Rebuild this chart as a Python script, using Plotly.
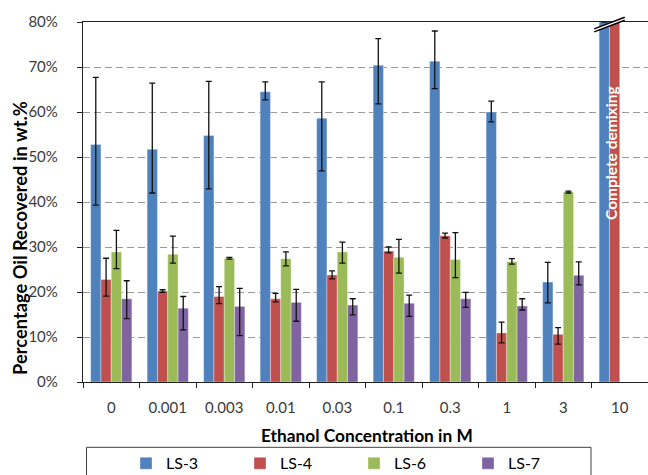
import plotly.graph_objects as go

categories = ["0", "0.001", "0.003", "0.01", "0.03", "0.1", "0.3", "1", "3", "10"]
series_names = ["LS-3", "LS-4", "LS-6", "LS-7"]
colors = ["#4F81BD", "#C0504D", "#9BBB59", "#8064A2"]

ls3 = [52.8, 51.7, 54.8, 64.5, 58.6, 70.4, 71.3, 60.0, 22.2, 80]
ls3_plus = [14.9, 14.7, 12.0, 2.2, 8.1, 5.9, 6.7, 2.4, 4.4, None]
ls3_minus = [13.5, 9.7, 11.9, 1.8, 11.7, 8.6, 6.1, 2.2, 4.6, None]

ls4 = [22.8, 20.2, 19.0, 18.5, 23.8, 29.1, 32.5, 10.9, 10.6, 80]
ls4_plus = [4.7, 0.3, 2.2, 1.2, 0.9, 0.9, 0.6, 2.4, 1.5, None]
ls4_minus = [3.7, 0.3, 1.6, 0.7, 0.9, 0.4, 0.5, 2.2, 2.2, None]

ls6 = [28.9, 28.4, 27.5, 27.4, 28.9, 27.7, 27.2, 26.7, 42.2, None]
ls6_plus = [4.8, 4.0, 0.2, 1.5, 2.2, 4.0, 6.0, 0.7, 0.2, None]
ls6_minus = [3.7, 2.0, 0.2, 1.6, 2.5, 3.5, 4.0, 0.5, 0.2, None]

ls7 = [18.5, 16.4, 16.8, 17.7, 17.1, 17.5, 18.5, 16.9, 23.7, None]
ls7_plus = [4.0, 2.6, 4.0, 2.9, 1.4, 1.8, 1.4, 1.6, 3.0, None]
ls7_minus = [4.4, 4.8, 6.5, 4.2, 2.2, 2.9, 1.9, 0.9, 2.1, None]

y_ticks = [0, 10, 20, 30, 40, 50, 60, 70, 80]
y_tick_labels = [f"{v}%" for v in y_ticks]

data = [(ls3, ls3_plus, ls3_minus), (ls4, ls4_plus, ls4_minus),
        (ls6, ls6_plus, ls6_minus), (ls7, ls7_plus, ls7_minus)]

FONT = "Lato, 'Open Sans', sans-serif"
TXT = "#3a3a3a"

fig = go.Figure()
for name, col, (vals, plus, minus) in zip(series_names, colors, data):
    fig.add_trace(go.Bar(
        name=name, x=categories, y=vals,
        marker=dict(color=col, line=dict(color="rgba(255,255,255,0.35)", width=1)),
        error_y=dict(type="data", symmetric=False, array=plus, arrayminus=minus,
                     color="#111111", thickness=1.3, width=3),
    ))

n = len(categories)
bargap = 0.27
idx10 = categories.index("10")
group_w = 1 - bargap
cx = (idx10 + 0.5 - group_w / 4) / n
half = 0.27 / n
ya0, ya1 = 0.981, 1.013
off = 3 / 361

shapes = [
    dict(type="path", xref="paper", yref="paper",
         path=f"M{cx-half},{ya0} L{cx+half},{ya1} L{cx+half},{ya1-off} L{cx-half},{ya0-off} Z",
         fillcolor="white", line=dict(width=0)),
    dict(type="line", xref="paper", yref="paper", x0=cx - half, y0=ya0, x1=cx + half, y1=ya1,
         line=dict(color="black", width=1.5)),
    dict(type="line", xref="paper", yref="paper", x0=cx - half, y0=ya0 - off, x1=cx + half, y1=ya1 - off,
         line=dict(color="black", width=1.5)),
    # legend frame
    dict(type="rect", xref="paper", yref="paper", x0=(86.5 - 83) / 565, x1=(591 - 83) / 565,
         y0=-0.35, y1=(382.5 - 448) / 361, line=dict(color="#404040", width=1),
         fillcolor="rgba(0,0,0,0)"),
]

annotations = [
    dict(text="<b>Complete demixing</b>", x=idx10, y=51, xref="x", yref="y", xshift=-9.3,
         textangle=-90, showarrow=False, font=dict(family=FONT, size=15.5, color="white")),
    dict(text="<b>Percentage Oil Recovered in wt.%</b>", xref="paper", yref="paper",
         x=(20 - 83) / 565, y=(382.5 - 238) / 361, xanchor="center", yanchor="middle",
         textangle=-90, showarrow=False, font=dict(family=FONT, size=18.3, color="black")),
    dict(text="<b>Ethanol Concentration in M</b>", xref="paper", yref="paper",
         x=(367 - 83) / 565, y=(382.5 - 436) / 361, xanchor="center", yanchor="middle",
         showarrow=False, font=dict(family=FONT, size=17.3, color="black")),
]

fig.update_layout(
    width=648, height=475,
    margin=dict(l=83, r=0, t=21.5, b=92.5, autoexpand=False),
    paper_bgcolor="white", plot_bgcolor="white",
    barmode="group", bargap=bargap, bargroupgap=0,
    font=dict(family=FONT, size=15, color=TXT),
    showlegend=True,
    legend=dict(orientation="h", x=(126 - 83) / 565, xanchor="left",
                y=(382.5 - 447) / 361, yanchor="top",
                entrywidth=69, entrywidthmode="pixels", borderwidth=0,
                bgcolor="rgba(0,0,0,0)",
                font=dict(family=FONT, size=16, color="black"), itemclick=False),
    shapes=shapes, annotations=annotations,
    xaxis=dict(type="category", showline=True, linecolor="#222222", linewidth=1.3, mirror=True,
               ticks="outside", tickson="boundaries", ticklen=5, tickcolor="#222222",
               showgrid=False, tickfont=dict(family=FONT, size=15, color=TXT),
               ticklabelstandoff=12, automargin=False),
    yaxis=dict(range=[0, 80], tickvals=y_ticks, ticktext=y_tick_labels,
               showline=True, linecolor="#222222", linewidth=1.3,
               ticks="outside", ticklen=5, tickcolor="#222222",
               showgrid=True, gridcolor="#9a9a9a", gridwidth=1.3, griddash="7px,4px",
               zeroline=False, tickfont=dict(family=FONT, size=15, color=TXT),
               ticklabelstandoff=16, automargin=False),
    yaxis2=dict(range=[0, 80], tickvals=y_ticks, overlaying="y", side="left",
                ticks="inside", ticklen=5, tickcolor="#222222", showticklabels=False,
                showgrid=False, zeroline=False, showline=False, automargin=False),
)

fig.write_html("out.html", config={"displayModeBar": False},
               post_script="document.body.style.margin='0px';")
